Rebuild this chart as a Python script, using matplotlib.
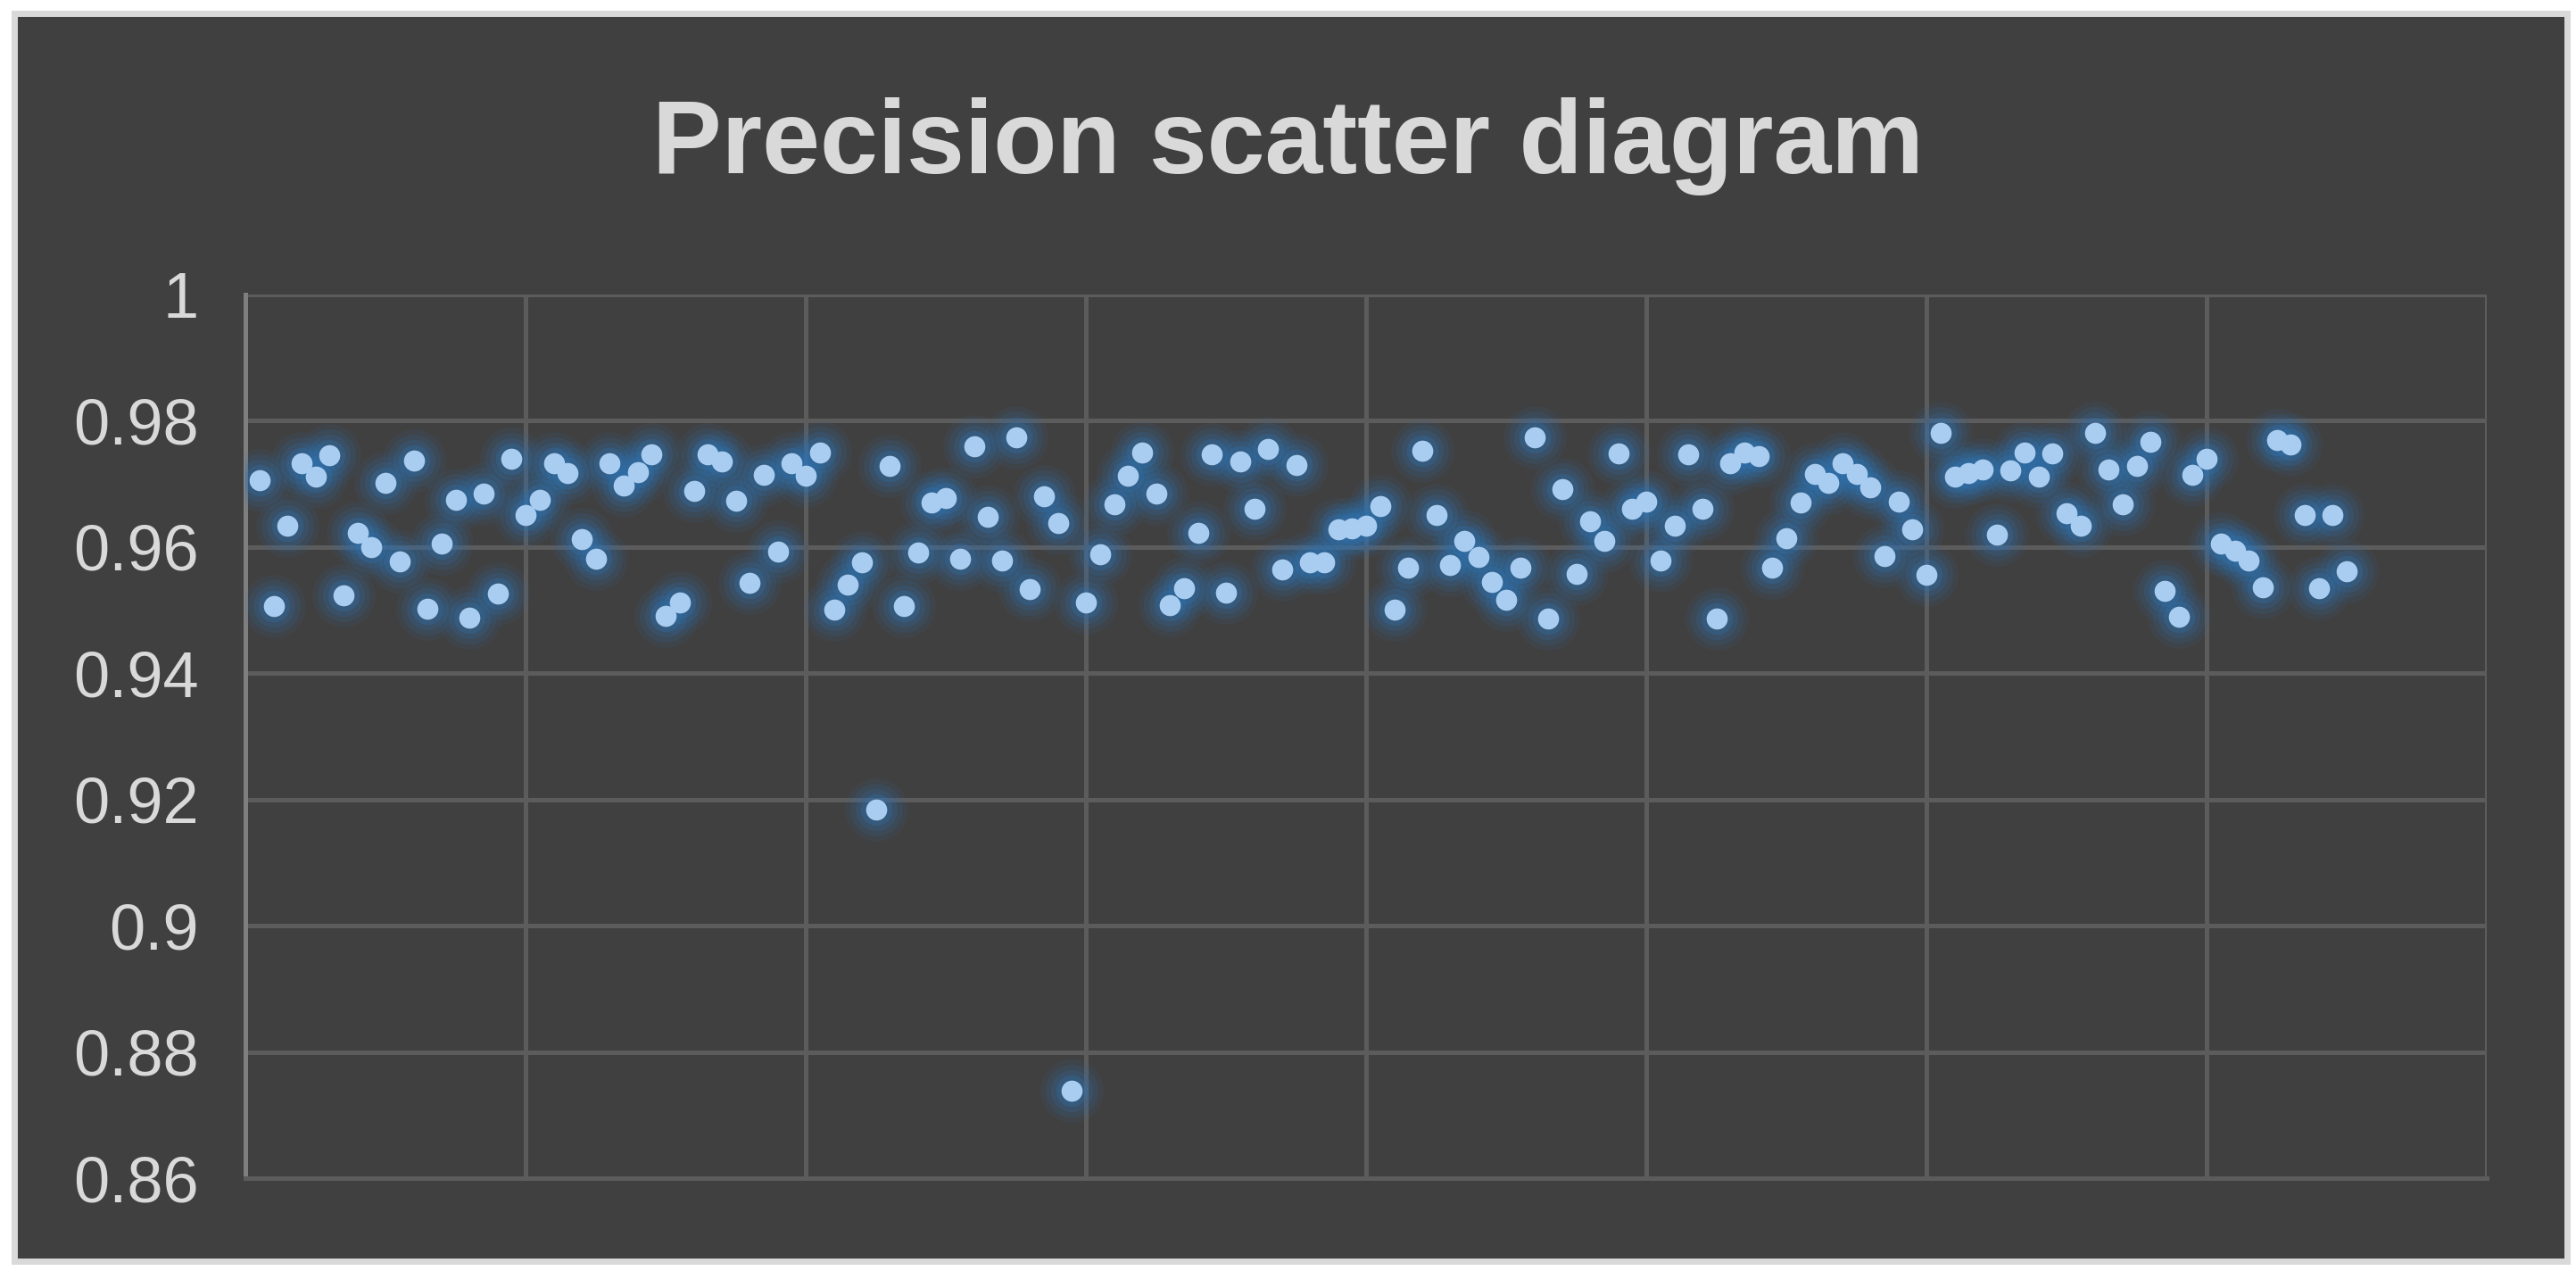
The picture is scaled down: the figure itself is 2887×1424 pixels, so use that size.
import numpy as np
import matplotlib
matplotlib.use('Agg')
import matplotlib.pyplot as plt
from matplotlib.patches import Rectangle

# dados: precisao por amostra (1..150)
precision = [
    0.9706, 0.9507, 0.9633, 0.9733, 0.9712, 0.9745, 0.9523, 0.9623, 0.9600, 0.9702,
    0.9577, 0.9737, 0.9502, 0.9606, 0.9675, 0.9488, 0.9684, 0.9526, 0.9740, 0.9651,
    0.9674, 0.9733, 0.9717, 0.9613, 0.9581, 0.9733, 0.9698, 0.9719, 0.9747, 0.9491,
    0.9512, 0.9689, 0.9747, 0.9735, 0.9673, 0.9543, 0.9714, 0.9593, 0.9733, 0.9713,
    0.9749, 0.9501, 0.9540, 0.9576, 0.9184, 0.9728, 0.9507, 0.9591, 0.9670, 0.9677,
    0.9581, 0.9760, 0.9648, 0.9579, 0.9774, 0.9534, 0.9681, 0.9638, 0.8738, 0.9512,
    0.9588, 0.9667, 0.9713, 0.9750, 0.9684, 0.9508, 0.9535, 0.9622, 0.9747, 0.9528,
    0.9735, 0.9661, 0.9756, 0.9564, 0.9730, 0.9576, 0.9576, 0.9628, 0.9630, 0.9633,
    0.9665, 0.9501, 0.9567, 0.9753, 0.9650, 0.9572, 0.9610, 0.9584, 0.9544, 0.9517,
    0.9567, 0.9773, 0.9487, 0.9692, 0.9558, 0.9641, 0.9610, 0.9748, 0.9660, 0.9672,
    0.9578, 0.9633, 0.9747, 0.9661, 0.9487, 0.9733, 0.9750, 0.9744, 0.9567, 0.9614,
    0.9670, 0.9716, 0.9702, 0.9733, 0.9715, 0.9695, 0.9586, 0.9672, 0.9628, 0.9556,
    0.9781, 0.9711, 0.9717, 0.9723, 0.9619, 0.9722, 0.9750, 0.9712, 0.9748, 0.9653,
    0.9633, 0.9781, 0.9723, 0.9667, 0.9728, 0.9767, 0.9530, 0.9489, 0.9714, 0.9740,
    0.9605, 0.9594, 0.9578, 0.9536, 0.9770, 0.9763, 0.9650, 0.9535, 0.9650, 0.9562,
]
sample = list(range(1, len(precision) + 1))

y_ticks = [0.86, 0.88, 0.90, 0.92, 0.94, 0.96, 0.98, 1.00]
y_tick_labels = ['0.86', '0.88', '0.9', '0.92', '0.94', '0.96', '0.98', '1']
x_ticks = list(range(0, 161, 20))

title = 'Precision scatter diagram'

bg = '#404040'
grid_color = '#5c5c5c'
text_color = '#d9d9d9'

plt.rcParams['font.family'] = ['Liberation Sans', 'DejaVu Sans']

fig = plt.figure(figsize=(28.87, 14.24), dpi=100)
fig.patch.set_facecolor('white')

# moldura do grafico (fundo escuro com borda clara)
frame = Rectangle((16 / 2887, 1 - 1413 / 1424), 2861 / 2887, 1398 / 1424,
                  transform=fig.transFigure, facecolor=bg, edgecolor='#d9d9d9',
                  linewidth=5, zorder=-10)
fig.patches.append(frame)

ax = fig.add_axes([0.0953, 0.0730, 0.8701, 0.6953])
ax.set_zorder(1)
ax.set_facecolor(bg)

# brilho azul em volta dos pontos
for scale, alpha in [(3.0, 0.08), (2.5, 0.12), (2.0, 0.18), (1.5, 0.28)]:
    ax.scatter(sample, precision, s=290 * scale ** 2, color='#2e75b6',
               alpha=alpha, linewidths=0, zorder=3)
ax.scatter(sample, precision, s=290, color='#a9cdf0', linewidths=0, zorder=4)

ax.set_xlim(0, 160)
ax.set_ylim(0.86, 1.0)
ax.set_xticks(x_ticks)
ax.set_xticklabels([])
ax.set_yticks(y_ticks)
ax.set_yticklabels(y_tick_labels)
ax.tick_params(axis='both', length=0, colors=text_color, labelsize=52, pad=38)

ax.grid(True, color=grid_color, linewidth=3.6, zorder=1)
ax.set_axisbelow(True)
for side in ['top', 'right']:
    ax.spines[side].set_visible(False)
ax.spines['bottom'].set_color(grid_color)
ax.spines['bottom'].set_linewidth(3.6)
ax.spines['left'].set_color('#7f7f7f')
ax.spines['left'].set_linewidth(3.6)

fig.text(0.5, 0.885, title, ha='center', va='center', fontsize=84,
         fontweight='bold', color=text_color)

plt.savefig('out.png', dpi=100, facecolor='white')
